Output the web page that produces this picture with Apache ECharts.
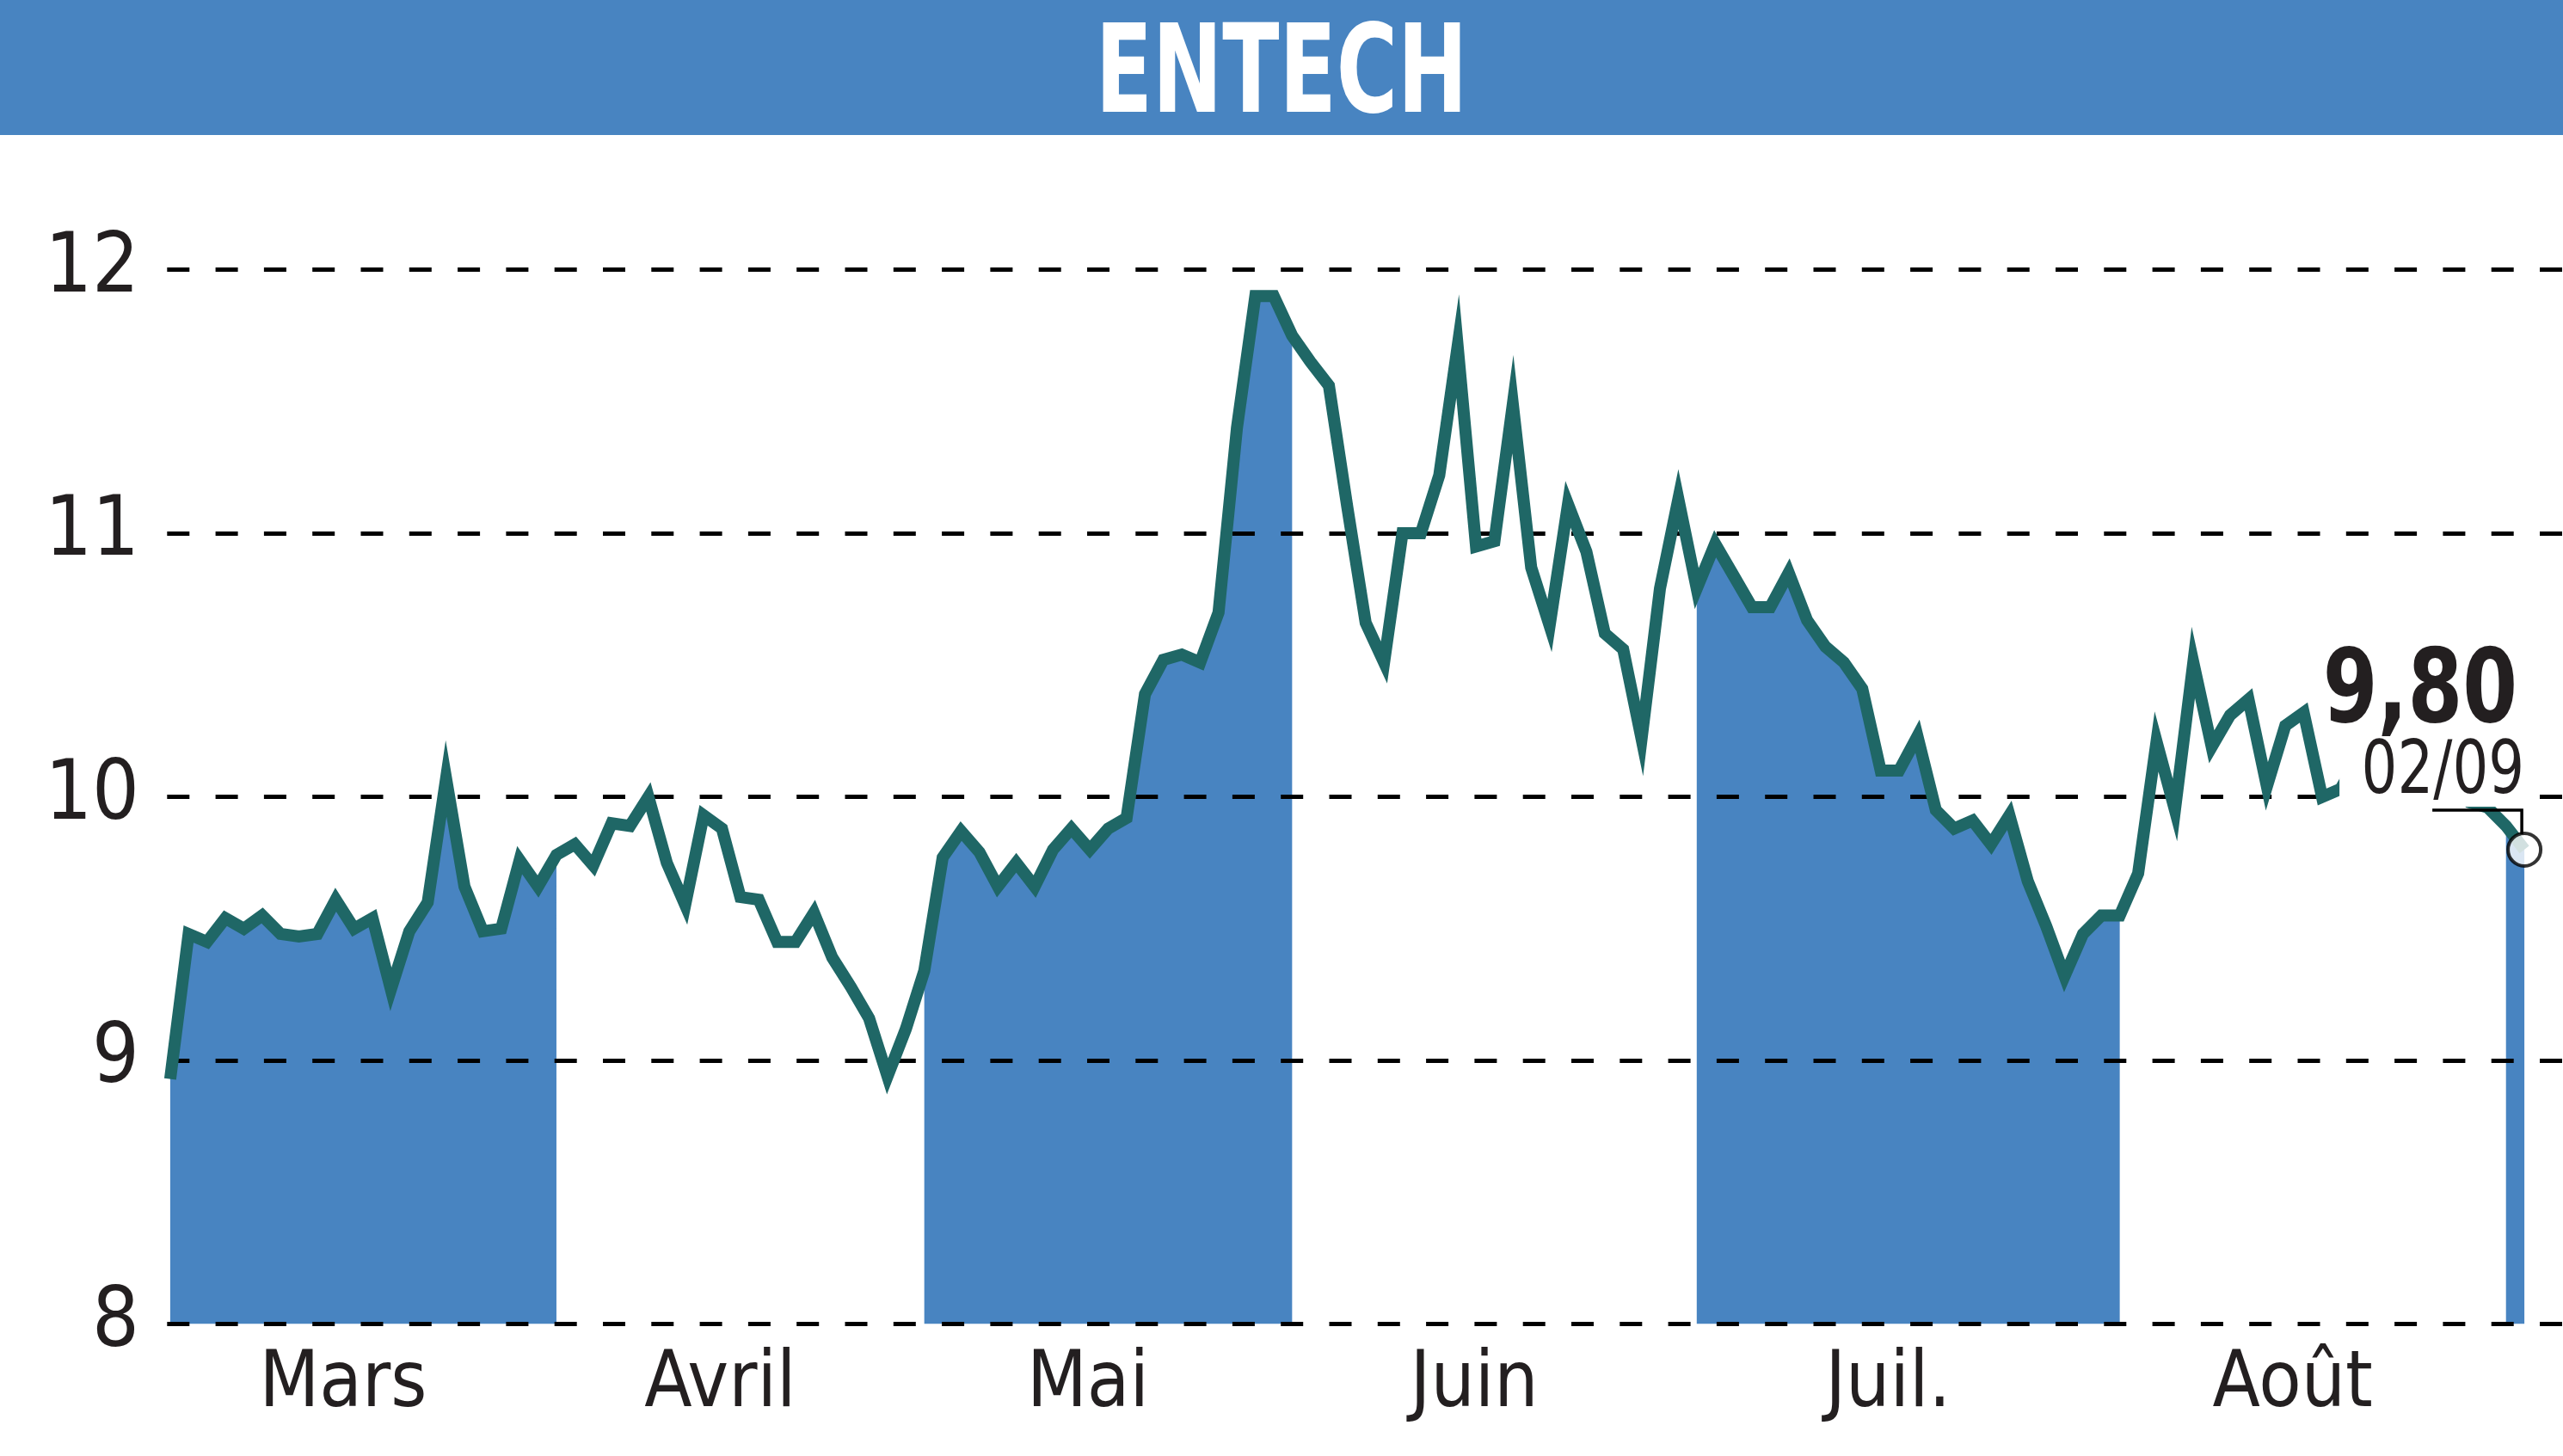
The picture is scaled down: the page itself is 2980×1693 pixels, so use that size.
<!DOCTYPE html>
<html><head><meta charset="utf-8">
<script src="https://cdn.jsdelivr.net/npm/echarts@6/dist/echarts.min.js"></script>
<style>html,body{margin:0;padding:0;background:#fff}#c{width:2980px;height:1693px}</style>
</head><body><div id="c"></div>
<script>
// ---- data ----
const chartTitle = 'ENTECH';
const monthNames = ['Mars', 'Avril', 'Mai', 'Juin', 'Juil.', 'Août'];
const mars  = [8.93, 9.48, 9.45, 9.54, 9.50, 9.55, 9.48, 9.47, 9.48, 9.61, 9.50, 9.54, 9.27, 9.49, 9.60, 10.07, 9.66, 9.49, 9.50, 9.76, 9.66];
const avril = [9.78, 9.82, 9.74, 9.90, 9.89, 10.00, 9.75, 9.59, 9.93, 9.88, 9.62, 9.61, 9.45, 9.45, 9.56, 9.39, 9.28, 9.16, 8.94, 9.12];
const mai   = [9.34, 9.77, 9.87, 9.79, 9.66, 9.75, 9.66, 9.80, 9.88, 9.80, 9.88, 9.92, 10.39, 10.52, 10.54, 10.51, 10.70, 11.40, 11.90, 11.90];
const juin  = [11.75, 11.65, 11.56, 11.10, 10.66, 10.51, 11.00, 11.00, 11.22, 11.71, 10.95, 10.97, 11.49, 10.87, 10.65, 11.11, 10.93, 10.62, 10.56, 10.22, 10.79, 11.13];
const juil  = [10.79, 10.96, 10.84, 10.72, 10.72, 10.85, 10.67, 10.57, 10.51, 10.41, 10.10, 10.10, 10.23, 9.95, 9.88, 9.91, 9.82, 9.93, 9.68, 9.51, 9.32, 9.48, 9.55];
const aout  = [9.55, 9.71, 10.21, 9.95, 10.51, 10.19, 10.31, 10.37, 10.04, 10.27, 10.32, 10.00, 10.03, 10.15, 10.10, 10.05, 10.10, 10.00, 10.05, 9.98, 9.96];
const sept  = [9.89, 9.80];
const yTicks = [8, 9, 10, 11, 12];
const lastValueText = '9,80';
const lastDateText = '02/09';
const shadedMonths = [0, 2, 4, 6];

// ---- build ----
const BLUE = '#4884c1', TEAL = '#1f6766', INK = '#231f20';
const FONT = "'Liberation Sans Narrow', 'DejaVu Sans Condensed', 'Noto Sans', sans-serif";
const groups = [mars, avril, mai, juin, juil, aout, sept];
const starts = []; let n = 0;
groups.forEach(g => { starts.push(n); n += g.length; });
const values = groups.flat();
const lastIdx = values.length - 1;
const lineData = values.map((v, i) => [i, v]);
const labelVals = monthNames.map((m, k) => (starts[k] + starts[k + 1]) / 2 - 1.1);

const areaSeries = shadedMonths.map(k => {
  const s = starts[k];
  const e = k + 1 < groups.length ? starts[k + 1] : lastIdx;
  return {
    type: 'line', data: values.slice(s, e + 1).map((v, j) => [s + j, v]),
    symbol: 'none', lineStyle: { width: 0 }, silent: true, z: 1,
    areaStyle: { color: BLUE, opacity: 1, origin: 'start' }
  };
});

const chart = echarts.init(document.getElementById('c'), null, { renderer: 'canvas' });
const option = {
  animation: false,
  backgroundColor: '#fff',
  grid: { left: 184, right: 0, top: 313.6, bottom: 153.4, containLabel: false, outerBoundsMode: 'none' },
  xAxis: {
    type: 'value', min: -0.65, max: lastIdx + 2.1,
    axisLine: { show: false }, axisTick: { show: false }, splitLine: { show: false },
    axisLabel: {
      customValues: labelVals,
      formatter: v => { const i = labelVals.findIndex(x => Math.abs(x - v) < 1e-6); return i >= 0 ? monthNames[i] : ''; },
      fontFamily: FONT, fontSize: 90, color: INK, margin: 72, verticalAlign: 'middle'
    }
  },
  yAxis: {
    type: 'value', min: yTicks[0], max: yTicks[yTicks.length - 1], interval: 1, z: 2,
    axisLine: { show: false }, axisTick: { show: false },
    splitLine: { show: true, lineStyle: { color: '#000', width: 5, type: [26, 30.3], dashOffset: 46 } },
    axisLabel: { fontFamily: FONT, fontSize: 96, color: INK, margin: 22 }
  },
  series: areaSeries.concat([
    { type: 'line', data: lineData, symbol: 'none', z: 3,
      lineStyle: { color: TEAL, width: 14, join: 'miter' } },
    { type: 'scatter', data: [[lastIdx, values[lastIdx]]], symbol: 'circle', symbolSize: 38, z: 6,
      itemStyle: { color: '#fff', borderColor: '#000', borderWidth: 4 } }
  ])
};
chart.setOption(option);

const [px, py] = chart.convertToPixel({ gridIndex: 0 }, [lastIdx, values[lastIdx]]);
chart.setOption({
  graphic: [
    { type: 'rect', shape: { x: 0, y: 0, width: 2980, height: 157 }, style: { fill: BLUE }, z: 100 },
    { type: 'text', x: 1490, y: 93, scaleX: 0.76, z: 101,
      style: { text: chartTitle, fill: '#fff', fontFamily: FONT, fontWeight: 'bold', fontSize: 142, align: 'center', verticalAlign: 'middle' } },
    { type: 'rect', shape: { x: px - 215, y: py - 240, width: 228, height: 190 }, style: { fill: '#fff' }, z: 50 },
    { type: 'text', x: px - 8, y: py - 180, z: 51, scaleX: 0.85,
      style: { text: lastValueText, fill: INK, fontFamily: FONT, fontWeight: 'bold', fontSize: 120, align: 'right', verticalAlign: 'middle' } },
    { type: 'text', x: px, y: py - 88, z: 51, scaleX: 0.85,
      style: { text: lastDateText, fill: INK, fontFamily: FONT, fontSize: 86, align: 'right', verticalAlign: 'middle' } },
    { type: 'polyline', z: 52, shape: { points: [[px - 107, py - 46], [px - 3, py - 46], [px - 3, py - 18]] },
      style: { stroke: '#000', lineWidth: 3.5, fill: null } }
  ]
});
</script></body></html>
